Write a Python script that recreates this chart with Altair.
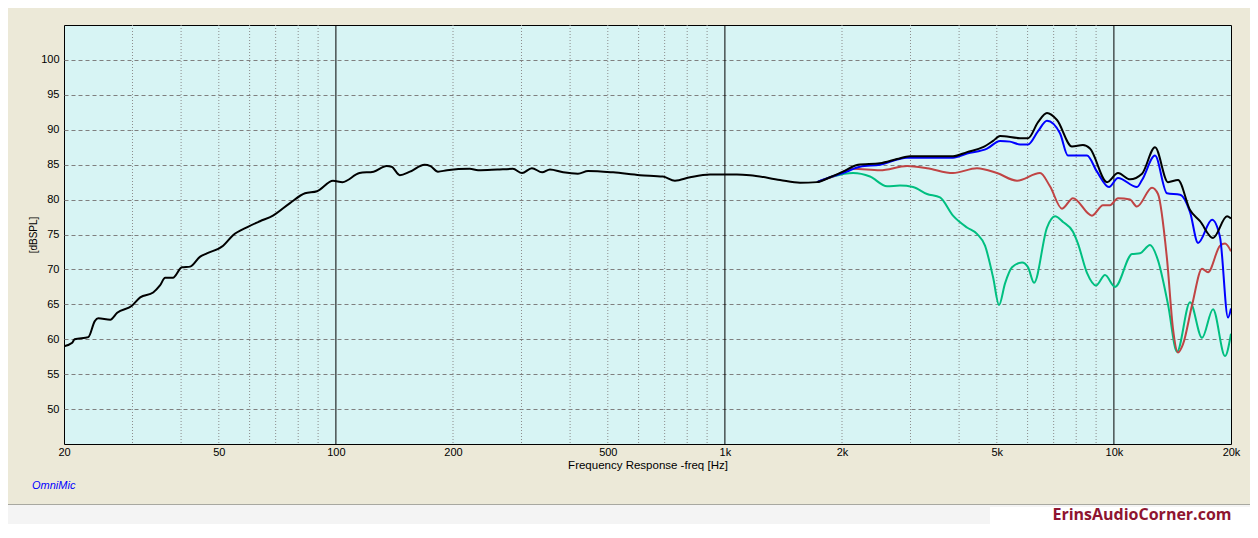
import altair as alt
import pandas as pd

# ---------------- data ----------------
black_f = [20, 21, 21.3, 23.1, 24.0, 24.5, 26.3, 27.4, 29.9, 31.4, 33.9, 35.3, 36.4, 38.1, 40.2,
           42.2, 44.7, 46.6, 51.3, 54.4, 59.4, 63.8, 68.9, 76.2, 83.3, 89.4, 98.3, 104, 115, 125,
           135, 139, 146, 155, 169, 175, 183, 193, 221, 232, 260, 285, 301, 319, 339, 355, 384,
           419, 445, 516, 605, 693, 744, 814, 916, 1074, 1160, 1386, 1560, 1725, 1863, 2012, 2199,
           2504, 2770, 2991, 3858, 4192, 4608, 4890, 5097, 5738, 6016, 6383, 6730, 7140, 7803,
           8327, 8680, 9600, 10246, 11001, 11811, 12755, 13774, 14616, 15694, 16650, 17981,
           19536, 20000]
black_db = [59.0, 59.5, 60.0, 60.3, 62.6, 63.0, 62.8, 63.8, 64.8, 66.0, 66.7, 67.7, 68.8, 68.8,
            70.3, 70.4, 71.8, 72.3, 73.4, 74.9, 76.1, 76.9, 77.7, 79.5, 80.9, 81.2, 82.7, 82.5,
            83.8, 84.0, 84.8, 84.7, 83.5, 84.0, 85.0, 84.8, 84.0, 84.2, 84.4, 84.2, 84.3, 84.4,
            83.8, 84.5, 83.9, 84.3, 83.9, 83.7, 84.1, 83.9, 83.5, 83.3, 82.7, 83.2, 83.6, 83.6,
            83.5, 82.8, 82.4, 82.5, 83.2, 84.0, 85.0, 85.2, 85.8, 86.2, 86.2, 86.8, 87.5, 88.4,
            89.1, 88.8, 88.8, 91.1, 92.4, 91.4, 87.6, 87.8, 87.3, 82.5, 83.8, 82.9, 83.7, 87.5,
            82.5, 82.8, 78.5, 76.9, 74.5, 77.6, 77.3]

blue_f = [1725, 1863, 2012, 2225, 2504, 2939, 3858, 4192, 4719, 5097, 5408, 5738, 6016, 6383,
          6730, 7268, 7620, 8527, 9048, 9714, 10246, 11466, 11811, 12755, 13693, 14791, 15694,
          16455, 17876, 18742, 19651, 20000]
blue_db = [82.5, 83.2, 83.8, 84.7, 85.0, 86.0, 86.0, 86.6, 87.3, 88.4, 88.3, 87.9, 87.9, 89.8,
           91.3, 89.5, 86.3, 86.3, 84.0, 81.8, 83.1, 81.8, 82.8, 86.3, 80.9, 80.7, 78.2, 73.8,
           77.1, 74.6, 63.1, 64.4]

red_f = [1725, 1896, 2135, 2504, 2939, 3308, 3858, 4447, 5007, 5636, 6457, 6850, 7355, 7849,
         8784, 9376, 9772, 10246, 11001, 11466, 12530, 12983, 13693, 14188, 14616, 15056, 15900,
         16849, 17457, 18742, 19306, 20000]
red_db = [82.5, 83.3, 84.4, 84.2, 84.8, 84.5, 83.8, 84.5, 83.8, 82.7, 83.8, 81.9, 78.7, 80.2,
          77.7, 79.2, 79.2, 80.2, 80.0, 79.0, 81.7, 80.8, 71.5, 61.5, 58.1, 59.3, 65.0, 70.1,
          69.6, 73.4, 73.7, 72.6]

green_f = [1725, 1896, 2135, 2361, 2611, 2819, 3045, 3308, 3572, 3858, 4192, 4447, 4663, 4890,
           5067, 5250, 5472, 5806, 6016, 6234, 6730, 7057, 7399, 7849, 8084, 8527, 8995, 9487,
           10066, 11132, 11671, 12383, 12983, 13774, 14529, 15694, 16849, 17981, 19306, 20000]
green_db = [82.5, 83.3, 83.8, 83.3, 81.9, 82.0, 81.8, 80.8, 80.3, 77.7, 76.0, 75.1, 73.4, 68.9,
            64.9, 68.0, 70.3, 71.0, 70.3, 68.1, 76.0, 77.6, 76.8, 75.4, 73.7, 69.5, 67.7, 69.2,
            67.5, 72.2, 72.3, 73.5, 71.3, 65.0, 58.2, 65.3, 60.2, 64.3, 57.6, 60.8]

x_tick_values = [20, 50, 100, 200, 500, 1000, 2000, 5000, 10000, 20000]
y_tick_values = [50, 55, 60, 65, 70, 75, 80, 85, 90, 95, 100]
minor_grid_f = [30, 40, 50, 60, 70, 80, 90, 200, 300, 400, 500, 600, 700, 800, 900,
                2000, 3000, 4000, 5000, 6000, 7000, 8000, 9000]
decade_f = [100, 1000, 10000]

x_title = "Frequency Response -freq [Hz]"
y_title = "[dBSPL]"
brand_text = "OmniMic"
watermark_text = "ErinsAudioCorner.com"

# ---------------- chart ----------------
FONT = "Liberation Sans Narrow, Liberation Sans, Arial, sans-serif"
W, H = 1167, 419
PAD_L, PAD_T, PAD_R, PAD_B = 56, 17, 19, 80

x_scale = alt.Scale(type="log", domain=[20, 20000], nice=False)
y_scale = alt.Scale(domain=[45, 105], nice=False, zero=False)

x_axis = alt.Axis(
    values=x_tick_values,
    labelExpr="datum.value >= 1000 ? format(datum.value / 1000, 'd') + 'k' : format(datum.value, 'd')",
    grid=False, ticks=False, tickSize=0, domain=False,
    labelPadding=2, labelFont=FONT, labelFontSize=11, labelColor="black",
    labelOverlap=False, labelFlush=False,
    title=x_title, titleFont=FONT, titleFontSize=11.5, titleFontWeight="normal",
    titleColor="black", titleX=W / 2, titleY=21, titleBaseline="middle", titleAlign="center",
)
y_axis = alt.Axis(
    values=y_tick_values,
    grid=True, gridDash=[4, 3], gridColor="#7f7f7f", gridWidth=1,
    ticks=False, tickSize=0, domain=False,
    labelPadding=5, labelFont=FONT, labelFontSize=11, labelColor="black",
    labelOverlap=False, labelFlush=False,
    title=y_title, titleFont=FONT, titleFontSize=10, titleFontWeight="normal",
    titleColor="black", titleX=-31, titleY=H / 2, titleAngle=270,
    titleBaseline="middle", titleAlign="center",
)

X = alt.X("f:Q", scale=x_scale, axis=x_axis)
Y = alt.Y("db:Q", scale=y_scale, axis=y_axis)

minor_rules = alt.Chart(pd.DataFrame({"f": minor_grid_f})).mark_rule(
    color="#8c8c8c", strokeDash=[1, 2], strokeWidth=1
).encode(x=X)

decade_rules = alt.Chart(pd.DataFrame({"f": decade_f})).mark_rule(
    color="black", strokeWidth=1
).encode(x=X)


def curve(f, db, color):
    df = pd.DataFrame({"f": f, "db": db})
    return alt.Chart(df).mark_line(
        color=color, strokeWidth=2, interpolate="monotone", clip=True
    ).encode(x=X, y=Y)


green_line = curve(green_f, green_db, "#00BF80")
red_line = curve(red_f, red_db, "#C04444")
blue_line = curve(blue_f, blue_db, "#0000FF")
black_line = curve(black_f, black_db, "#000000")

one = pd.DataFrame({"t": [brand_text]})
brand = alt.Chart(one).mark_text(
    align="left", baseline="middle", font=FONT, fontSize=11, fontStyle="italic", color="#0000FF"
).encode(x=alt.value(-32), y=alt.value(461), text="t:N")

RIGHT = W + PAD_R
BOTTOM = H + PAD_B
band = alt.Chart(one).mark_rect(color="#F4F4F4").encode(
    x=alt.value(-PAD_L), x2=alt.value(RIGHT), y=alt.value(480), y2=alt.value(BOTTOM)
)
band_line = alt.Chart(one).mark_rule(color="#A8A8A0", strokeWidth=1).encode(
    x=alt.value(-PAD_L), x2=alt.value(RIGHT), y=alt.value(479.5)
)
white_box = alt.Chart(one).mark_rect(color="#FFFFFF").encode(
    x=alt.value(926), x2=alt.value(RIGHT), y=alt.value(482), y2=alt.value(BOTTOM)
)
wm = alt.Chart(pd.DataFrame({"t": [watermark_text]})).mark_text(
    align="center", baseline="middle", font="Open Sans, Liberation Sans, sans-serif",
    fontSize=16, fontWeight="bold", color="#8E1530"
).encode(x=alt.value(1078), y=alt.value(490), text="t:N")

chart = alt.layer(
    minor_rules, decade_rules, green_line, red_line, blue_line, black_line,
    brand, band, band_line, white_box, wm
).properties(
    width=W, height=H,
    autosize=alt.AutoSizeParams(type="none"),
    padding={"left": PAD_L, "top": PAD_T, "right": PAD_R, "bottom": PAD_B},
    background="#ECE9D8",
).configure_view(
    fill="#D7F4F4", stroke="black", strokeWidth=1
)

chart.save("out.html", embed_options={"renderer": "svg", "actions": False})
